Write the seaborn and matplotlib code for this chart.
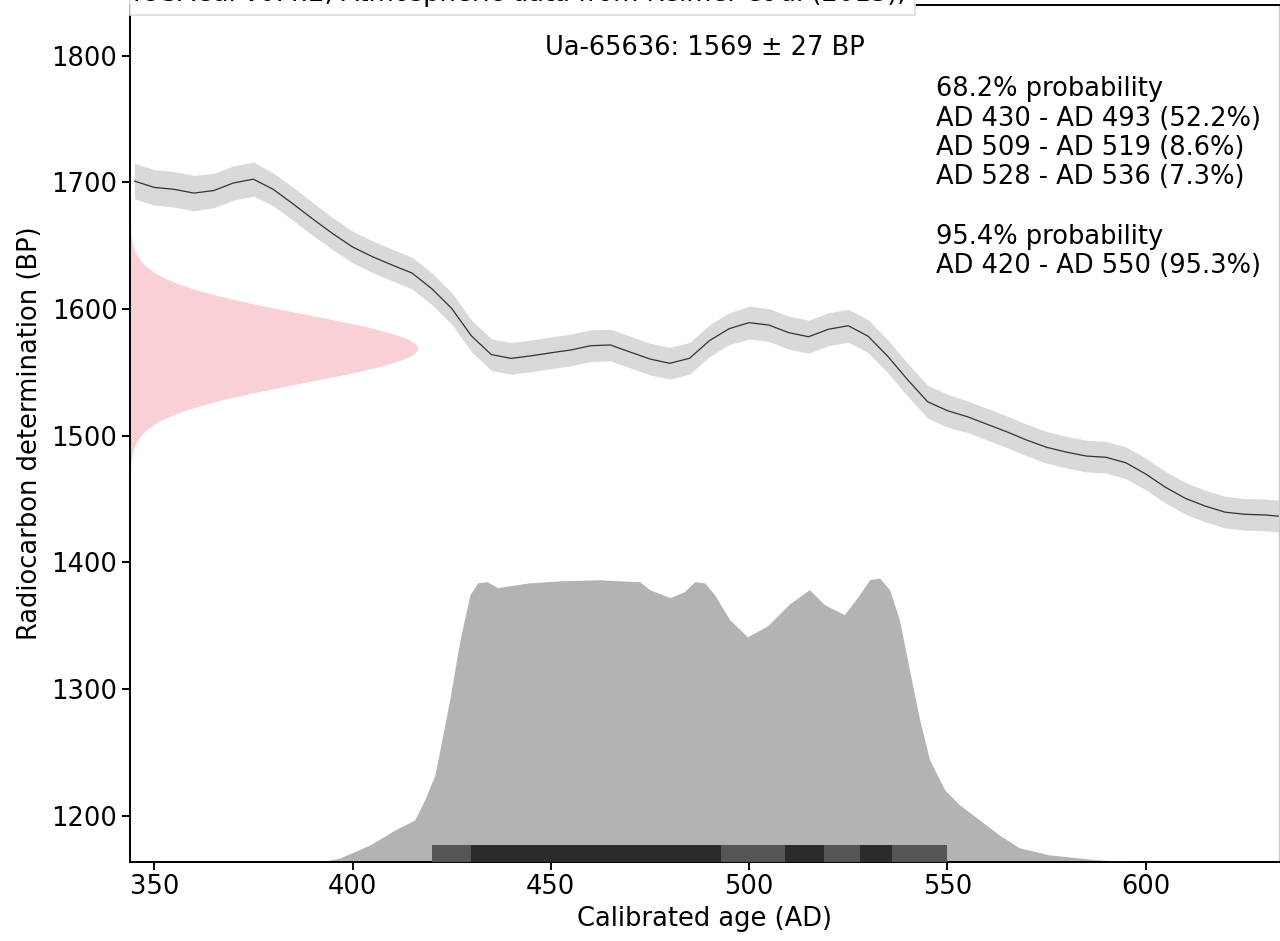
import numpy as np
import pandas as pd
import matplotlib
matplotlib.use("Agg")
import matplotlib.pyplot as plt
from matplotlib.patches import Rectangle
import seaborn as sns

# ---------------- data ----------------
curve_years = [345, 350, 355, 360, 365, 370, 375, 380, 385, 390, 395, 400, 405, 410,
               415, 420, 425, 430, 435, 440, 445, 450, 455, 460, 465, 470, 475, 480,
               485, 490, 495, 500, 505, 510, 515, 520, 525, 530, 535, 540, 545, 550,
               555, 560, 565, 570, 575, 580, 585, 590, 595, 600, 605, 610, 615, 620,
               625, 630, 635]
curve_bp = [1701, 1696, 1694.5, 1691.5, 1693.5, 1699.5, 1702.5, 1694.5, 1683, 1671,
            1659.5, 1649, 1641.3, 1634.7, 1628.4, 1616, 1600.5, 1578.7, 1564, 1561,
            1563, 1565.4, 1567.6, 1571, 1571.6, 1566, 1560.5, 1557.1, 1561.1, 1575,
            1584.5, 1589.2, 1587.3, 1581.3, 1578.1, 1584, 1586.8, 1578.5, 1562.5, 1544,
            1526.8, 1519.7, 1515, 1509, 1503, 1496.5, 1490.8, 1487, 1483.9, 1482.9,
            1478.6, 1469.7, 1459.2, 1450.5, 1444.4, 1439.6, 1437.9, 1437.4, 1436]
curve_sigma = [14, 14, 14, 14, 13.5, 13.5, 13.5, 13, 13, 13, 12.5, 12.5, 12.5, 12.5,
               12.5, 12.5, 12.5, 12.5, 12.5, 12.5, 12.5, 12.5, 12.5, 12.5, 12.5, 12.5,
               12.5, 12.5, 12.5, 12.5, 12.5, 13, 13, 13, 13, 13, 13, 13, 13, 13, 13,
               13, 12.5, 12.5, 12.5, 12.5, 12.5, 12.5, 12.5, 12.5, 12.5, 12.5, 12.5,
               12.5, 12.5, 12.5, 12.5, 12.5, 12.5]

cal_years = [391.8, 396.8, 404.4, 410.7, 415.7, 418.2, 420.8, 424.5, 427.1, 429.6,
             431.6, 433.9, 436.6, 439.7, 444.7, 452.3, 462.3, 467.4, 472.4, 474.9,
             480.0, 483.7, 486.3, 488.8, 491.3, 495.1, 499.6, 504.7, 510.2, 515.2,
             519.0, 524.0, 527.8, 530.4, 532.9, 535.4, 537.9, 540.4, 543.0, 545.5,
             549.3, 553.0, 558.1, 563.1, 568.1, 575.7, 588.3, 598.4]
cal_prob = [0.000, 0.014, 0.060, 0.113, 0.148, 0.219, 0.307, 0.571, 0.782, 0.941,
            0.983, 0.987, 0.966, 0.973, 0.983, 0.990, 0.994, 0.990, 0.987, 0.959,
            0.931, 0.952, 0.987, 0.983, 0.941, 0.853, 0.793, 0.832, 0.909, 0.959,
            0.906, 0.871, 0.941, 0.994, 1.000, 0.959, 0.853, 0.677, 0.501, 0.360,
            0.254, 0.202, 0.148, 0.095, 0.050, 0.025, 0.007, 0.000]

range_95 = [(420, 550)]
range_68 = [(430, 493), (509, 519), (528, 536)]

sample_name = "Ua-65636"
sample_bp = 1569
sample_err = 27

prob_text = ("68.2% probability\nAD 430 - AD 493 (52.2%)\nAD 509 - AD 519 (8.6%)\n"
             "AD 528 - AD 536 (7.3%)\n\n95.4% probability\nAD 420 - AD 550 (95.3%)")
header_text = "IOSACal v0.4.2; Atmospheric data from Reimer et al (2013);"

# ---------------- style ----------------
sns.set_style("ticks")
plt.rcParams["font.family"] = ["DejaVu Sans"]
for k in ["text.color", "axes.labelcolor", "xtick.color", "ytick.color"]:
    plt.rcParams[k] = "black"
plt.rcParams["axes.linewidth"] = 1.4
plt.rcParams["xtick.major.width"] = 1.4
plt.rcParams["ytick.major.width"] = 1.4
plt.rcParams["xtick.major.size"] = 5.5
plt.rcParams["ytick.major.size"] = 5.5

FS = 18.5
W, H = 1280, 941
fig = plt.figure(figsize=(W / 100, H / 100), dpi=100)
ax = fig.add_axes([130 / W, 79 / H, 1149 / W, 857 / H])

xmin, xmax = 343.9, 633.6
ymin, ymax = 1163.4, 1840.0

# calibration curve band + line
cdf = pd.DataFrame({"year": curve_years, "bp": curve_bp, "sigma": curve_sigma})
ax.fill_between(cdf["year"], cdf["bp"] - cdf["sigma"], cdf["bp"] + cdf["sigma"],
                color="#d9d9d9", lw=0, zorder=1)
sns.lineplot(data=cdf, x="year", y="bp", color="#333333", lw=0.9, ax=ax, zorder=2)

# measurement (normal) distribution on the y-axis
bp_grid = np.linspace(sample_bp - 4 * sample_err, sample_bp + 4 * sample_err, 400)
dens = np.exp(-0.5 * ((bp_grid - sample_bp) / sample_err) ** 2)
amp = 72.5
ax.fill_betweenx(bp_grid, xmin, xmin + dens * amp, color="#fad0d7", lw=0, zorder=1)

# calibrated distribution
hscale = 224.2
pdf = pd.DataFrame({"year": cal_years, "p": cal_prob})
ax.fill_between(pdf["year"], ymin, ymin + pdf["p"] * hscale, color="#b3b3b3", lw=0, zorder=1)

# ranges
bar_h = 13.4
for a, b in range_95:
    ax.fill_between([a, b], ymin, ymin + bar_h, color="#555555", lw=0, zorder=3)
for a, b in range_68:
    ax.fill_between([a, b], ymin, ymin + bar_h, color="#2b2b2b", lw=0, zorder=4)

ax.set_xlim(xmin, xmax)
ax.set_ylim(ymin, ymax)
ax.set_xticks([350, 400, 450, 500, 550, 600])
ax.set_yticks([1200, 1300, 1400, 1500, 1600, 1700, 1800])
ax.tick_params(labelsize=FS, colors="black")
ax.set_xlabel("Calibrated age (AD)", fontsize=FS, labelpad=4)
ax.set_ylabel("Radiocarbon determination (BP)", fontsize=FS, labelpad=6)
ax.spines["right"].set_color("#cccccc")
ax.spines["right"].set_linewidth(1.0)
for s in ["left", "bottom", "top"]:
    ax.spines[s].set_color("black")

ax.text(0.5, 0.965, f"{sample_name}: {sample_bp} \u00b1 {sample_err} BP",
        transform=ax.transAxes, ha="center", va="top", fontsize=FS)
fig.text(936 / W, (H - 76) / H, prob_text, ha="left", va="top", fontsize=FS,
         linespacing=1.175)

# clipped header box at the top
fig.patches.append(Rectangle((130 / W, (H - 15) / H), (915 - 130) / W, 0.05,
                             transform=fig.transFigure, facecolor="white",
                             edgecolor="#dddddd", lw=1.2, zorder=5))
fig.text(133 / W, (H - 1) / H, header_text, ha="left", va="baseline",
         fontsize=FS, color="black", zorder=6)

fig.savefig("out.png", dpi=100)
